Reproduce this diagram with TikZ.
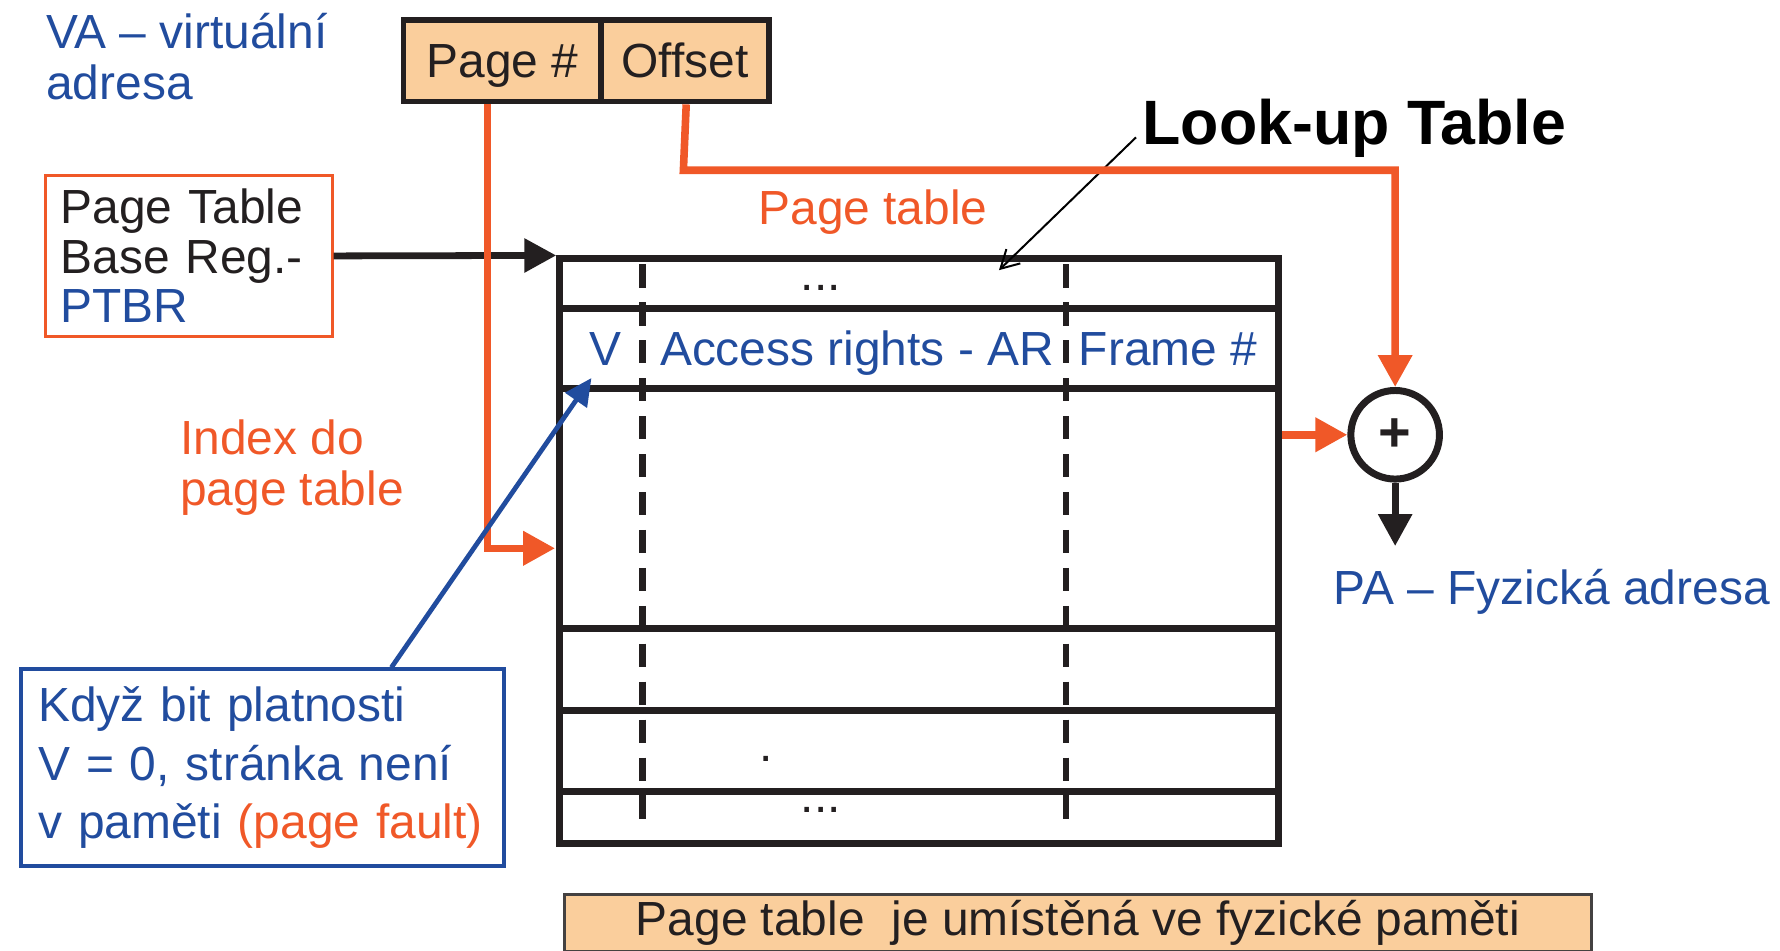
\documentclass[tikz,border=0pt]{standalone}
\usepackage{fontspec}
\setmainfont{Liberation Sans}
\usetikzlibrary{arrows.meta}
\definecolor{vablue}{RGB}{33,76,158}
\definecolor{ptorange}{RGB}{240,88,40}
\definecolor{boxfill}{RGB}{250,206,156}
\definecolor{ink}{RGB}{35,31,32}

\begin{document}
\begin{tikzpicture}[x=0.01cm, y=-0.01cm,
  every node/.style={font=\fontsize{12}{12.8}\selectfont, inner sep=0pt},
  lbl/.style={text=ink},
  bluetxt/.style={text=vablue},
  orangetxt/.style={text=ptorange},
  field/.style={draw=ink, line width=1.4pt, fill=boxfill, minimum height=0.72cm, text=ink,
                text height=8.6pt, text depth=0pt},
  rowline/.style={ink, line width=1.75pt},
  colsep/.style={ink, line width=1.7pt, dash pattern=on 5.8pt off 3.7pt},
  oarrow/.style={ptorange, line width=1.9pt, -{Triangle[length=8pt,width=8.2pt]}},
  karrow/.style={ink, line width=1.7pt, -{Triangle[length=8pt,width=8.2pt]}},
  barrow/.style={vablue, line width=1.2pt, -{Triangle[length=6.8pt,width=6.4pt]}},
  thinarrow/.style={black, line width=0.5pt, -{Straight Barb[length=4.5pt,width=5pt]}},
]
\clip (0,0) rectangle (1568,837);

% virtual address
\node[bluetxt, align=left, anchor=base west] (va) at (40,88) {VA – virtuální\\adresa};
\node[field, minimum width=1.74cm, anchor=north west] (pagenum) at (353,15) {Page \#};
\node[field, minimum width=1.48cm, anchor=north west] (offset) at (527,15) {Offset};

% page table base register
\node[draw=ptorange, line width=0.8pt, minimum width=2.52cm, minimum height=1.42cm,
      text width=2.26cm, inner xsep=0.13cm, align=left, text=ink,
      font=\fontsize{12}{12.4}\selectfont, anchor=north west] (ptbr) at (39,153)
      {Page Table\\Base Reg.-\\\textcolor{vablue}{PTBR}};

% the page table itself
\node[draw=ink, line width=1.75pt, minimum width=6.33cm, minimum height=5.15cm, anchor=north west] (tbl) at (490,225) {};
\foreach \yy in {272,342,554,626,697}
  \draw[rowline] (490,\yy) -- (1123,\yy);
\draw[colsep] (566,233) -- (566,728);
\draw[colsep] (939,233) -- (939,728);

\node[lbl, anchor=base] (dotsA) at (723,256) {...};
\node[bluetxt, anchor=base] (vbit) at (533,322) {V};
\node[bluetxt, anchor=base] (ar) at (755,322) {Access rights - AR};
\node[bluetxt, anchor=base] (frame) at (1029,322) {Frame \#};
\node[lbl, anchor=base] (dotB) at (675,671) {.};
\node[lbl, anchor=base] (dotsC) at (723,716) {...};

\node[orangetxt] (ptlabel) at (769,187) {Page table};
\node[font=\fontsize{15.7}{16}\selectfont\bfseries] (lut) at (1193,113) {Look-up Table};
\coordinate (lutpt) at (880,238);
\draw[thinarrow] ([shift={(-5,8)}]lut.west) -- (lutpt);

% adder
\node[draw=ink, circle, line width=1.75pt, minimum size=0.78cm, text=ink,
      font=\fontsize{14}{14}\selectfont\bfseries] (sum) at (1229,383) {+};
\node[bluetxt] (pa) at (1367,521) {PA – Fyzická adresa};
\coordinate (paend) at (1229,481);

% connectors
\draw[karrow] (ptbr.east) -- (tbl.north west);
\coordinate (rowin) at (489,483);
\draw[oarrow] ([xshift=-0.13cm]pagenum.south) |- (rowin);
\coordinate (offbend) at (602,150);
\draw[oarrow] ([xshift=0.01cm]offset.south) -- (offbend) -| (sum.north);
\draw[oarrow] (tbl.east |- sum) -- (sum.west);
\draw[karrow] (sum.south) -- (paend);

\node[orangetxt, align=left, anchor=base west] (idxlbl) at (158,445) {Index do\\page table};

% valid bit note
\node[draw=vablue, line width=0.9pt, minimum width=4.25cm, minimum height=1.73cm,
      text width=3.95cm, inner xsep=0.15cm, align=left, text=vablue,
      font=\fontsize{12}{14.6}\selectfont, anchor=north west] (vnote) at (17,588)
      {Když bit platnosti\\V = 0, stránka není\\v paměti \textcolor{ptorange}{(page fault)}};
\coordinate (vmark) at (521,333);
\draw[barrow] ([xshift=1.135cm]vnote.north) -- (vmark);

% location note
\node[draw=ink!85, line width=0.7pt, fill=boxfill, minimum width=9.04cm, minimum height=0.5cm,
      text=ink, anchor=north west] (where) at (496,787) {Page table~ je umístěná ve fyzické paměti};
\end{tikzpicture}
\end{document}
